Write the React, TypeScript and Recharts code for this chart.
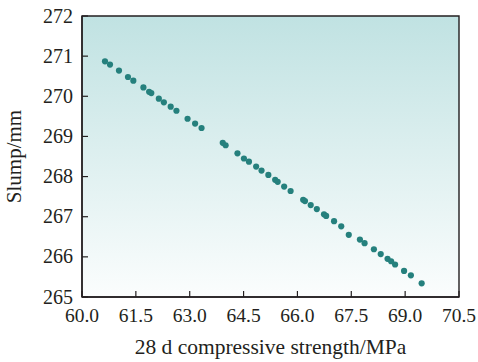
import { ReferenceArea, Scatter, ScatterChart, XAxis, YAxis } from "recharts";

// 28 d compressive strength (MPa) and slump (mm) of each mix
const strength = [
  60.64, 60.78, 61.03, 61.28, 61.43, 61.71, 61.87, 61.93, 62.14, 62.28, 62.47, 62.63,
  62.94, 63.15, 63.33, 63.92, 64.0, 64.33, 64.51, 64.65, 64.85, 65.0, 65.19, 65.38,
  65.45, 65.63, 65.81, 66.16, 66.21, 66.37, 66.54, 66.74, 66.8, 67.02, 67.22, 67.43,
  67.74, 67.87, 68.13, 68.32, 68.51, 68.61, 68.72, 68.97, 69.16, 69.46,
];
const slump = [
  270.87, 270.79, 270.64, 270.48, 270.39, 270.22, 270.11, 270.08, 269.94, 269.85, 269.74, 269.64,
  269.44, 269.32, 269.21, 268.84, 268.78, 268.58, 268.45, 268.37, 268.25, 268.15, 268.04, 267.92,
  267.87, 267.75, 267.64, 267.42, 267.39, 267.29, 267.19, 267.06, 267.02, 266.89, 266.76, 266.55,
  266.43, 266.34, 266.19, 266.07, 265.95, 265.89, 265.81, 265.65, 265.54, 265.34,
];
const xTicks = [60, 61.5, 63, 64.5, 66, 67.5, 69, 70.5];
const yTicks = [265, 266, 267, 268, 269, 270, 271, 272];

const points = strength.map((x, i) => ({ x, y: slump[i] }));

const FONT = "Liberation Serif";
const INK = "#231f20";
const DOT = "#25807d";

// serif tick labels, drawn by hand so the font is applied directly
const XTick = (p: any) => (
  <text x={p.x} y={p.y} dy={14} textAnchor="middle" fontFamily={FONT} fontSize={19.5} fill={INK}>
    {Number(p.payload.value).toFixed(1)}
  </text>
);
const YTick = (p: any) => (
  <text x={p.x} y={p.y} dy={6.5} textAnchor="end" fontFamily={FONT} fontSize={20} fill={INK}>
    {p.payload.value}
  </text>
);
const Dot = (p: any) => <circle cx={p.cx} cy={p.cy} r={3.1} fill={DOT} />;

export default function App() {
  return (
    <div style={{ position: "absolute", left: 0, top: 0, width: 478, height: 362, background: "#fff", fontFamily: FONT }}>
      <ScatterChart width={478} height={362} margin={{ top: 16, right: 19, left: 0, bottom: 0 }}>
        <defs>
          <linearGradient id="plotBg" x1="0" y1="0" x2="0" y2="1">
            <stop offset="0%" stopColor="#c0e2e2" />
            <stop offset="100%" stopColor="#fbfdfd" />
          </linearGradient>
        </defs>
        <ReferenceArea
          x1={60}
          x2={70.5}
          y1={265}
          y2={272}
          fill="url(#plotBg)"
          fillOpacity={1}
          stroke={INK}
          strokeWidth={1.4}
        />
        <XAxis
          type="number"
          dataKey="x"
          domain={[60, 70.5]}
          ticks={xTicks}
          interval={0}
          allowDataOverflow
          height={65}
          tickSize={-6}
          tickMargin={17}
          stroke={INK}
          axisLine={{ stroke: INK, strokeWidth: 1.4 }}
          tickLine={{ stroke: INK, strokeWidth: 1.2 }}
          tick={XTick}
          label={{ value: "28 d compressive strength/MPa", position: "insideBottom", offset: 8, fill: INK, fontSize: 21.5, fontFamily: FONT }}
        />
        <YAxis
          type="number"
          dataKey="y"
          domain={[265, 272]}
          ticks={yTicks}
          interval={0}
          allowDataOverflow
          width={82}
          tickSize={-6}
          tickMargin={15}
          stroke={INK}
          axisLine={{ stroke: INK, strokeWidth: 1.4 }}
          tickLine={{ stroke: INK, strokeWidth: 1.2 }}
          tick={YTick}
          label={{ value: "Slump/mm", angle: -90, position: "insideLeft", offset: 14, fill: INK, fontSize: 21, fontFamily: FONT, style: { textAnchor: "middle" } }}
        />
        <Scatter data={points} fill={DOT} shape={Dot} isAnimationActive={false} />
      </ScatterChart>
    </div>
  );
}
